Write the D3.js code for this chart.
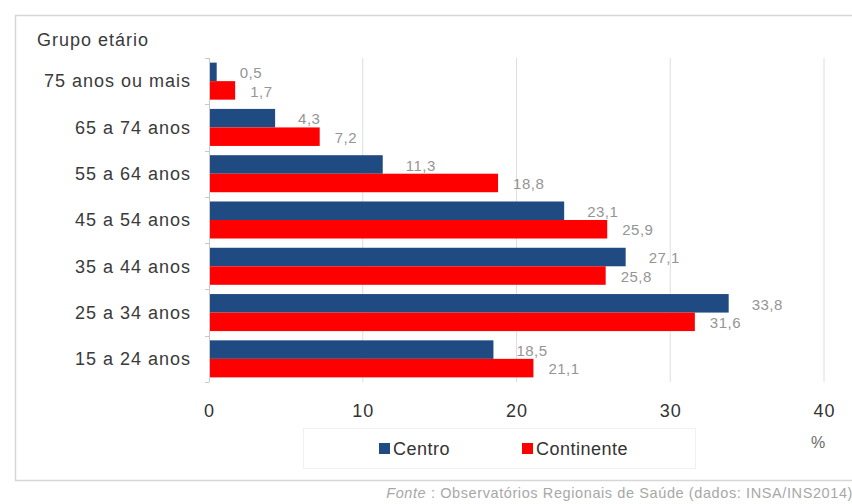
<!DOCTYPE html>
<html>
<head>
<meta charset="utf-8">
<script src="https://cdn.jsdelivr.net/npm/d3@7"></script>
<style>
    body { margin: 0; background: #fff; }
    #chart-area { width: 852px; height: 504px; }
    text { font-family: "Liberation Sans", Arial, sans-serif; }
</style>
</head>
<body>
<div id="chart-area"></div>
<script>
// values (%)
const ageGroups = ["75 anos ou mais", "65 a 74 anos", "55 a 64 anos", "45 a 54 anos", "35 a 44 anos", "25 a 34 anos", "15 a 24 anos"];
const centroValues = [0.5, 4.3, 11.3, 23.1, 27.1, 33.8, 18.5];
const continenteValues = [1.7, 7.2, 18.8, 25.9, 25.8, 31.6, 21.1];
const seriesNames = ["Centro", "Continente"];
const xTicks = [0, 10, 20, 30, 40];

class AgeGroupChart {

    constructor(parentElement) {
        this.parentElement = parentElement;
        this.initVis()
    }

    initVis() {
        let vis = this;

        vis.margin = {top: 58, right: 28, bottom: 122, left: 209};
        vis.totalWidth = 852;
        vis.totalHeight = 504;
        vis.width = vis.totalWidth - vis.margin.left - vis.margin.right;
        vis.height = vis.totalHeight - vis.margin.top - vis.margin.bottom;

        vis.root = d3.select("#" + vis.parentElement).append("svg")
            .attr("width", vis.totalWidth)
            .attr("height", vis.totalHeight);

        // outer frame (right side runs off the picture)
        vis.root.append("rect")
            .attr("x", 15.5).attr("y", 15.5)
            .attr("width", 900).attr("height", 465)
            .attr("fill", "none")
            .attr("stroke", "#d6d6d6")
            .attr("stroke-width", 1.5);

        vis.root.append("text")
            .attr("x", 37).attr("y", 46)
            .attr("font-size", 18)
            .attr("letter-spacing", 1)
            .attr("fill", "#3a3a3a")
            .text("Grupo etário");

        vis.svg = vis.root.append("g")
            .attr("transform", `translate(${vis.margin.left},${vis.margin.top})`);

        vis.xScale = d3.scaleLinear().domain([0, 40]).range([0, vis.width]);
        vis.yScale = d3.scaleBand().domain(ageGroups).range([0, vis.height]).padding(0);
        vis.ySub = d3.scaleBand().domain(seriesNames)
            .range([vis.yScale.bandwidth() * 0.1, vis.yScale.bandwidth() * 0.9]);
        vis.color = d3.scaleOrdinal().domain(seriesNames).range(["#1f4a82", "#ff0000"]);
        vis.labelOffset = {"Centro": 23, "Continente": 15};

        vis.fmt = d3.formatLocale({decimal: ",", thousands: ".", grouping: [3], currency: ["", "€"]}).format(".1f");

        vis.wrangleData()
    }

    wrangleData() {
        let vis = this;

        vis.displayData = ageGroups.map((g, i) => ({
            group: g,
            values: [
                {key: "Centro", value: centroValues[i]},
                {key: "Continente", value: continenteValues[i]}
            ]
        }));

        vis.updateVis()
    }

    updateVis() {
        let vis = this;

        // gridlines
        vis.svg.append("g")
            .selectAll("line")
            .data(xTicks.filter(d => d > 0))
            .enter().append("line")
            .attr("x1", d => vis.xScale(d)).attr("x2", d => vis.xScale(d))
            .attr("y1", 0).attr("y2", vis.height)
            .attr("stroke", "#dedede");

        // x tick labels
        vis.svg.append("g")
            .attr("transform", `translate(0,${vis.height})`)
            .call(d3.axisBottom(vis.xScale).tickValues(xTicks).tickSize(0).tickPadding(22))
            .call(g => g.select(".domain").remove())
            .selectAll("text")
            .attr("font-size", 18)
            .attr("letter-spacing", 1)
            .attr("font-family", "Liberation Sans, Arial, sans-serif")
            .attr("fill", "#333");

        // category axis with ticks at band boundaries
        let yAxis = vis.svg.append("g");
        yAxis.append("line")
            .attr("x1", 0.5).attr("x2", 0.5)
            .attr("y1", 0).attr("y2", vis.height)
            .attr("stroke", "#c8c8c8");
        yAxis.selectAll(".bnd")
            .data(d3.range(ageGroups.length + 1))
            .enter().append("line")
            .attr("class", "bnd")
            .attr("x1", -4).attr("x2", 0)
            .attr("y1", i => Math.round(i * vis.yScale.step()) + 0.5)
            .attr("y2", i => Math.round(i * vis.yScale.step()) + 0.5)
            .attr("stroke", "#c8c8c8");
        yAxis.selectAll(".cat")
            .data(ageGroups)
            .enter().append("text")
            .attr("class", "cat")
            .attr("x", -18)
            .attr("y", d => vis.yScale(d) + vis.yScale.bandwidth() / 2)
            .attr("dy", "0.35em")
            .attr("text-anchor", "end")
            .attr("font-size", 18)
            .attr("letter-spacing", 1)
            .attr("fill", "#3a3a3a")
            .text(d => d);

        // bars
        let groups = vis.svg.selectAll(".row")
            .data(vis.displayData)
            .enter().append("g")
            .attr("class", "row")
            .attr("transform", d => `translate(0,${vis.yScale(d.group)})`);

        groups.selectAll("rect")
            .data(d => d.values)
            .enter().append("rect")
            .attr("x", 1)
            .attr("y", d => vis.ySub(d.key))
            .attr("width", d => vis.xScale(d.value) - 1)
            .attr("height", vis.ySub.bandwidth())
            .attr("fill", d => vis.color(d.key));

        groups.selectAll(".val")
            .data(d => d.values)
            .enter().append("text")
            .attr("class", "val")
            .attr("x", d => vis.xScale(d.value) + vis.labelOffset[d.key])
            .attr("y", d => vis.ySub(d.key) + vis.ySub.bandwidth() / 2 + 1)
            .attr("dy", "0.35em")
            .attr("font-size", 15)
            .attr("letter-spacing", 0.5)
            .attr("fill", "#959595")
            .text(d => vis.fmt(d.value));

        // legend
        let legend = vis.root.append("g");
        legend.append("rect")
            .attr("x", 303.5).attr("y", 428.5)
            .attr("width", 392).attr("height", 40)
            .attr("fill", "none")
            .attr("stroke", "#f0f0f0");
        let legendX = {"Centro": 379, "Continente": 522};
        let items = legend.selectAll(".item")
            .data(seriesNames)
            .enter().append("g")
            .attr("class", "item")
            .attr("transform", d => `translate(${legendX[d]},443)`);
        items.append("rect")
            .attr("width", 11).attr("height", 11)
            .attr("fill", d => vis.color(d));
        items.append("text")
            .attr("x", 14).attr("y", 12)
            .attr("font-size", 18)
            .attr("letter-spacing", 0.5)
            .attr("fill", "#333")
            .text(d => d);

        vis.root.append("text")
            .attr("x", 818).attr("y", 448)
            .attr("text-anchor", "middle")
            .attr("font-size", 16)
            .attr("fill", "#6a6a6a")
            .text("%");

        // source line
        let src = vis.root.append("text")
            .attr("x", 853).attr("y", 498)
            .attr("text-anchor", "end")
            .attr("font-size", 14.5)
            .attr("letter-spacing", 0.6)
            .attr("fill", "#a8a8a8");
        src.append("tspan").attr("font-style", "italic").text("Fonte");
        src.append("tspan").text(" : Observatórios Regionais de Saúde (dados: INSA/INS2014)");
    }
}

new AgeGroupChart("chart-area");
</script>
</body>
</html>
